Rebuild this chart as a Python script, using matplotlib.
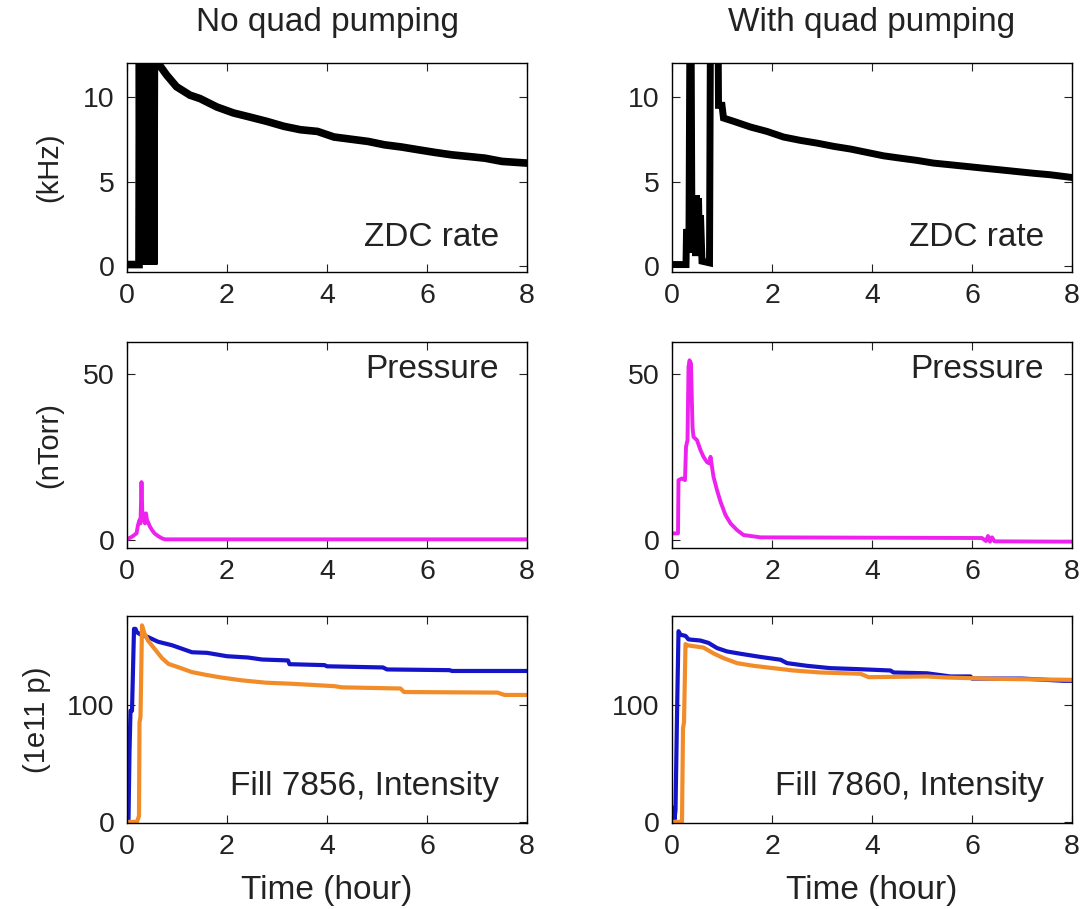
import matplotlib
matplotlib.use("Agg")
import matplotlib.pyplot as plt

plt.rcParams['font.family'] = ['Liberation Sans', 'DejaVu Sans']

# ---- data ----
# ZDC rate, fill 7856 (no quad pumping)
zdc_t_a = [0.0, 0.24, 0.25, 0.265, 0.28, 0.295, 0.31, 0.325, 0.34, 0.355, 0.37, 0.385,
           0.40, 0.415, 0.43, 0.445, 0.46, 0.475, 0.49, 0.505, 0.52, 0.535, 0.55, 0.56,
           0.62, 0.79, 0.99, 1.26, 1.46, 1.80, 2.13, 2.47, 2.80, 3.14, 3.47, 3.81, 4.14,
           4.48, 4.82, 5.15, 5.49, 5.82, 6.16, 6.49, 6.83, 7.16, 7.50, 8.0]
zdc_v_a = [0.1, 0.1, 14, 0.1, 14, 0.1, 14, 0.1, 14, 0.1, 14, 0.1,
           14, 0.1, 14, 0.1, 14, 0.1, 14, 0.1, 14, 0.1, 14, 14,
           12.0, 11.3, 10.6, 10.1, 9.9, 9.4, 9.05, 8.8, 8.55, 8.26, 8.06, 7.96, 7.63,
           7.5, 7.37, 7.17, 7.04, 6.88, 6.72, 6.58, 6.48, 6.38, 6.19, 6.09]

# ZDC rate, fill 7860 (with quad pumping)
zdc_t_b = [0.0, 0.28, 0.29, 0.34, 0.36, 0.38, 0.40, 0.43, 0.45, 0.47, 0.49, 0.51,
           0.53, 0.55, 0.57, 0.60, 0.75, 0.77, 0.92, 0.93, 1.00, 1.03, 1.23, 1.57,
           1.90, 2.23, 2.57, 2.90, 3.23, 3.57, 3.90, 4.23, 4.57, 4.90, 5.23, 5.57,
           5.90, 6.23, 6.57, 6.90, 7.23, 7.57, 8.0]
zdc_v_b = [0.1, 0.1, 2.0, 2.0, 15, 15, 0.8, 3.5, 4.1, 0.6, 4.2, 1.0,
           4.0, 0.8, 3.0, 0.3, 0.2, 15, 15, 9.5, 9.5, 8.75, 8.56, 8.22,
           7.96, 7.63, 7.43, 7.27, 7.08, 6.92, 6.72, 6.52, 6.38, 6.25, 6.09, 5.99,
           5.89, 5.79, 5.69, 5.59, 5.49, 5.4, 5.24]

# Pressure (nTorr)
pres_t_a = [0.0, 0.1, 0.19, 0.22, 0.25, 0.27, 0.29, 0.31, 0.33, 0.36, 0.38, 0.40,
            0.43, 0.46, 0.50, 0.55, 0.62, 0.70, 0.76, 1.0, 8.0]
pres_v_a = [0.2, 1.0, 2.0, 4.5, 6.0, 5.0, 17.4, 6.0, 8.0, 5.0, 8.0, 6.0,
            5.0, 4.0, 3.0, 2.0, 1.2, 0.5, 0.2, 0.2, 0.2]

pres_t_b = [0.0, 0.12, 0.13, 0.20, 0.26, 0.28, 0.31, 0.33, 0.35, 0.38, 0.41, 0.43,
            0.50, 0.57, 0.63, 0.70, 0.75, 0.77, 0.80, 0.83, 0.90, 0.97, 1.07, 1.17,
            1.30, 1.43, 1.77, 6.20, 6.28, 6.32, 6.36, 6.40, 6.45, 8.0]
pres_v_b = [2.0, 2.0, 18.0, 18.5, 18.0, 28.0, 30.0, 52.0, 54.0, 53.0, 34.0, 31.0,
            30.0, 27.0, 25.0, 23.4, 23.0, 25.0, 22.0, 19.0, 15.0, 11.5, 7.5, 5.0,
            3.0, 1.5, 0.8, 0.6, -0.3, 1.2, -0.5, 0.8, -0.4, -0.5]

# Intensity (1e11 p), blue and orange beams
int_t_a_b = [0.0, 0.03, 0.05, 0.07, 0.10, 0.14, 0.17, 0.20, 0.28, 0.42, 0.62, 0.90,
             1.10, 1.30, 1.60, 2.00, 2.42, 2.70, 3.22, 3.25, 3.95, 4.00, 5.12, 5.20,
             6.45, 6.50, 8.0]
int_v_a_b = [0.0, 2.0, 60.0, 95.0, 95.0, 165.0, 165.0, 162.0, 160.0, 158.0, 154.0, 151.0,
             148.0, 145.0, 144.5, 141.6, 140.5, 138.8, 138.0, 134.8, 134.0, 133.0, 132.0, 130.3,
             129.7, 129.0, 129.0]
int_t_a_y = [0.0, 0.20, 0.24, 0.25, 0.27, 0.30, 0.35, 0.42, 0.55, 0.70, 0.83, 1.04,
             1.30, 1.60, 1.87, 2.29, 2.77, 3.32, 4.15, 4.30, 5.47, 5.54, 7.41, 7.55, 8.0]
int_v_a_y = [0.0, 0.0, 5.0, 85.0, 90.0, 168.0, 161.0, 155.0, 148.0, 140.0, 135.0, 132.0,
             128.0, 125.5, 123.5, 121.0, 119.0, 118.0, 116.0, 115.0, 114.0, 111.0, 110.5, 108.5, 108.5]

int_t_b_b = [0.0, 0.03, 0.05, 0.07, 0.10, 0.13, 0.17, 0.27, 0.33, 0.57, 0.73, 0.90,
             1.10, 1.37, 1.77, 2.17, 2.30, 2.70, 3.17, 3.70, 4.37, 4.43, 5.10, 5.57,
             5.97, 6.00, 7.00, 7.83, 8.0]
int_v_b_b = [0.0, 12.0, 2.0, 10.0, 90.0, 163.0, 160.0, 159.0, 156.0, 155.0, 153.0, 148.6,
             145.7, 143.7, 141.0, 138.6, 135.7, 133.4, 131.4, 130.6, 129.4, 127.7, 127.0, 124.3,
             124.3, 122.5, 122.5, 120.6, 120.6]
int_t_b_y = [0.0, 0.20, 0.22, 0.24, 0.27, 0.30, 0.63, 0.83, 1.03, 1.30, 1.63, 2.03,
             2.43, 2.97, 3.77, 3.93, 5.10, 5.50, 6.43, 8.0]
int_v_b_y = [0.0, 0.0, 80.0, 85.0, 152.0, 151.0, 149.0, 144.0, 140.0, 135.7, 133.4, 131.4,
             129.4, 127.7, 126.6, 123.7, 124.3, 123.4, 122.3, 121.4]

titles = ['No quad pumping', 'With quad pumping']
fills = ['Fill 7856, Intensity', 'Fill 7860, Intensity']
ylabels = ['(kHz)', '(nTorr)', '(1e11 p)']
xticks = [0, 2, 4, 6, 8]

txt = '#222222'
blue = '#1414c8'
orange = '#f28c28'
magenta = '#ee22ee'

fig = plt.figure(figsize=(10.8, 9.09), dpi=100)

lefts = [127 / 1080, 672 / 1080]
width = 400 / 1080
rows = [(272, 209), (548, 206), (823, 207)]   # (bottom px, height px)

axes = []
for r, (bot, h) in enumerate(rows):
    row = []
    for c in range(2):
        ax = fig.add_axes([lefts[c], 1 - bot / 909, width, h / 909])
        ax.set_xlim(0, 8)
        ax.set_xticks(xticks)
        ax.tick_params(direction='in', top=True, right=True, length=6, width=0.8,
                       labelsize=20.5, colors=txt, labelcolor=txt)
        ax.tick_params(axis='y', pad=9)
        ax.tick_params(axis='x', pad=8)
        for s in ax.spines.values():
            s.set_linewidth(1.0)
            s.set_color('black')
        row.append(ax)
    axes.append(row)

# ZDC rate
axes[0][0].plot(zdc_t_a, zdc_v_a, color='black', lw=5.5, solid_joinstyle='miter')
axes[0][1].plot(zdc_t_b, zdc_v_b, color='black', lw=5.0, solid_joinstyle='miter')
for ax in axes[0]:
    ax.set_ylim(-0.34, 12)
    ax.set_yticks([0, 5, 10])
    ax.text(0.93, 0.165, 'ZDC rate', transform=ax.transAxes, ha='right', va='center',
            fontsize=24, color=txt)

# Pressure
axes[1][0].plot(pres_t_a, pres_v_a, color=magenta, lw=2.8)
axes[1][1].plot(pres_t_b, pres_v_b, color=magenta, lw=2.8)
for ax in axes[1]:
    ax.set_ylim(-2.4, 59.5)
    ax.set_yticks([0, 50])
    ax.text(0.93, 0.865, 'Pressure', transform=ax.transAxes, ha='right', va='center',
            fontsize=24, color=txt)

# Intensity
axes[2][0].plot(int_t_a_b, int_v_a_b, color=blue, lw=3.0)
axes[2][0].plot(int_t_a_y, int_v_a_y, color=orange, lw=3.0)
axes[2][1].plot(int_t_b_b, int_v_b_b, color=blue, lw=3.0)
axes[2][1].plot(int_t_b_y, int_v_b_y, color=orange, lw=3.0)
for c, ax in enumerate(axes[2]):
    ax.set_ylim(-1, 176)
    ax.set_yticks([0, 100])
    ax.text(0.93, 0.175, fills[c], transform=ax.transAxes, ha='right', va='center',
            fontsize=24, color=txt)
    ax.set_xlabel('Time (hour)', fontsize=24, color=txt)
    ax.xaxis.set_label_coords(0.5, -0.25)

# titles and y labels
for c in range(2):
    fig.text(lefts[c] + width / 2, 1 - 23 / 909, titles[c], ha='center', va='center',
             fontsize=24, color=txt)

label_x = [-0.16, -0.16, -0.19]
for r in range(3):
    axes[r][0].set_ylabel(ylabels[r], fontsize=21, color=txt)
    axes[r][0].yaxis.set_label_coords(label_x[r], 0.5)

fig.savefig('out.png', dpi=100, facecolor='white')
